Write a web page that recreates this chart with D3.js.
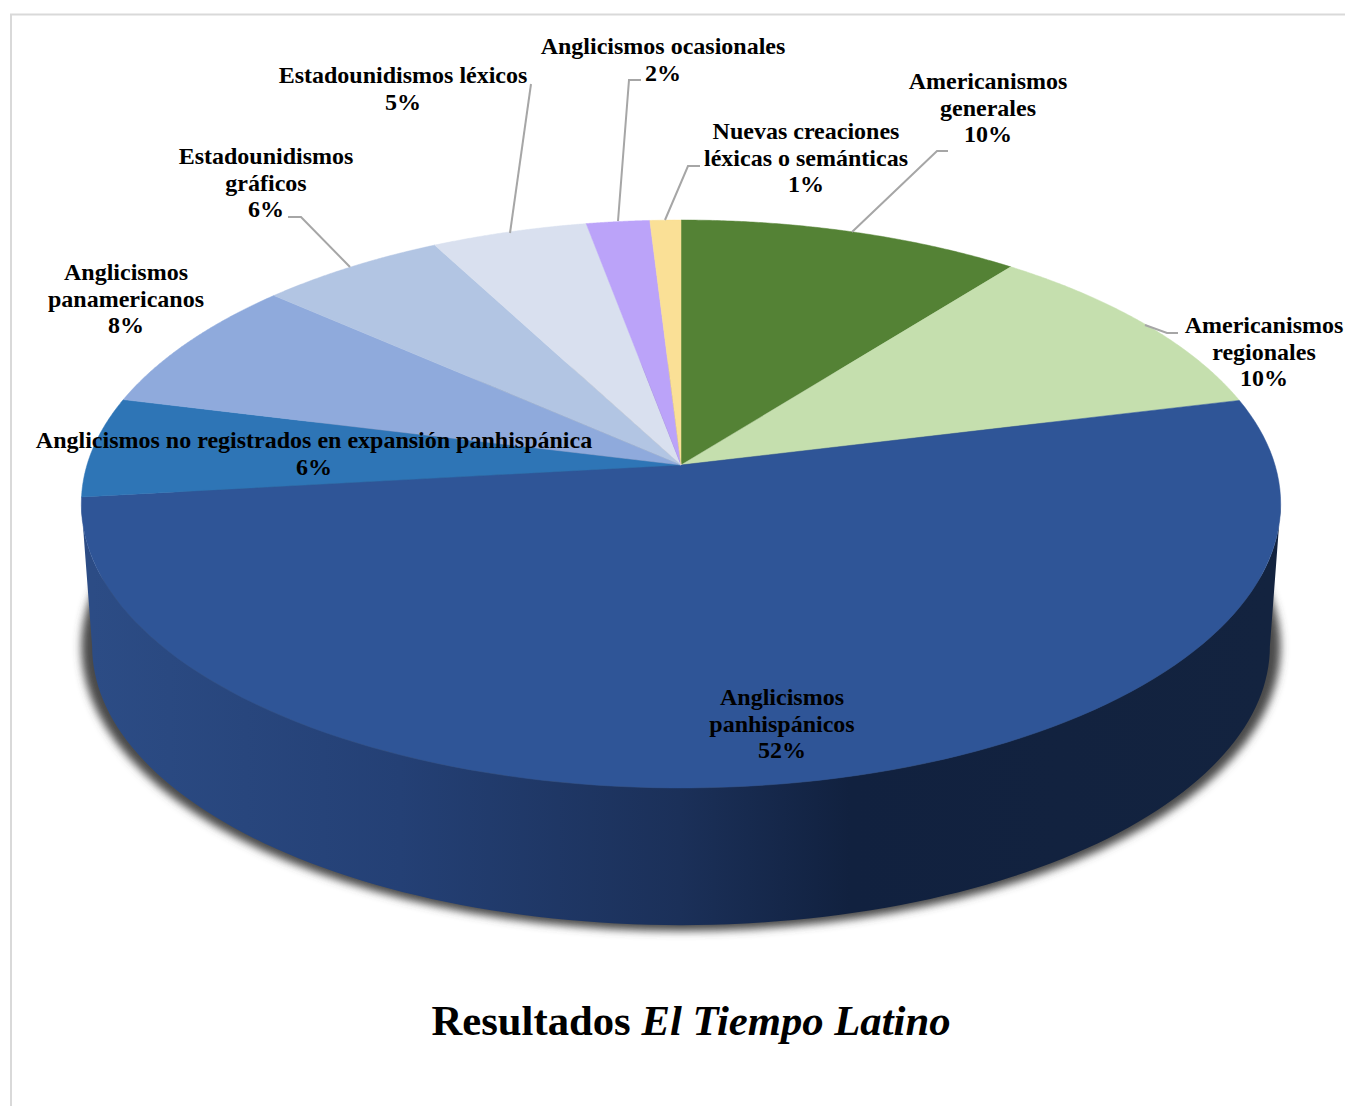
<!DOCTYPE html>
<html><head><meta charset="utf-8">
<script src="https://cdnjs.cloudflare.com/ajax/libs/d3/7.8.5/d3.min.js"></script>
<style>html,body{margin:0;padding:0;background:#fff;overflow:hidden}svg{display:block}
text{font-family:"Liberation Serif",serif;font-weight:bold;fill:#000}</style></head>
<body><svg id="c" width="1345" height="1106"></svg>
<script>
const categories=["Americanismos generales","Americanismos regionales","Anglicismos panhispánicos","Anglicismos no registrados en expansión panhispánica","Anglicismos panamericanos","Estadounidismos gráficos","Estadounidismos léxicos","Anglicismos ocasionales","Nuevas creaciones léxicas o semánticas"];
const sliceValues=[10.55,10.6,52.05,5.7,7.65,5.75,4.8,1.95,0.95];
const percentLabels=["10%","10%","52%","6%","8%","6%","5%","2%","1%"];
const labelLines=[["Americanismos","generales"],["Americanismos","regionales"],["Anglicismos","panhispánicos"],["Anglicismos no registrados en expansión panhispánica"],["Anglicismos","panamericanos"],["Estadounidismos","gráficos"],["Estadounidismos léxicos"],["Anglicismos ocasionales"],["Nuevas creaciones","léxicas o semánticas"]];
const colors=["#548235","#c5dfae","#2f5597","#2e75b6","#8faadc","#b2c5e3","#d9e0ef","#bba3f9","#fae096"];
const titleParts=[["Resultados ","normal"],["El Tiempo Latino","italic"]];

// layout
const labelPos=[[988,89],[1264,333],[782,705],[314,448],[126,280],[266,164],[403,83],[663,54],[806,139]];
const leaders=[[[852,232],[937,151],[948,151]],[[1145,325],[1167,333],[1178,333]],null,null,null,[[350,267],[301,217],[288,217]],[[510,233],[531,84]],[[618,221],[629,80],[641,80]],[[665,220],[688,166],[700,166]]];
const cx=681,apexTop=465,apexBottom=608,a=594,b=278.6,k=0.1373,lineH=26.5;
const project=(t,s,ay)=>{const u=Math.sin(t),v=Math.cos(t),w=1+k*v;return [cx+s*a*u/w,ay-s*b*v/w];};
const svg=d3.select("#c");
const defs=svg.append("defs");
const blur=defs.append("filter").attr("id","blur").attr("x","-10%").attr("y","-10%").attr("width","120%").attr("height","120%");
blur.append("feGaussianBlur").attr("stdDeviation",4.5);
const sideStops=[[92,"#2c4c85"],[400,"#244075"],[680,"#1b3059"],[850,"#11213f"],[1270,"#13233f"]];
const xGrad=d3.scaleLinear().domain([92,1270]).range([0,100]);
const grad=defs.append("linearGradient").attr("id","side").attr("gradientUnits","userSpaceOnUse").attr("x1",92).attr("x2",1270).attr("y1",0).attr("y2",0);
sideStops.forEach(d=>grad.append("stop").attr("offset",xGrad(d[0])+"%").attr("stop-color",d[1]));

// frame
svg.append("path").attr("d","M1345,14.5H11V1106").attr("fill","none").attr("stroke","#d9d9d9").attr("stroke-width",2);

const sample=(t0,t1)=>d3.range(0,121).map(i=>t0+(t1-t0)*i/120);
const line=d3.line();
// shadow
svg.append("path").attr("d",line(sample(0,2*Math.PI).map(t=>project(t,1,608)))+"Z").attr("fill","#4a4a4a").attr("filter","url(#blur)");
// side wall
const tL=Math.PI/2+Math.asin(k),tR=2*Math.PI-tL;
const s2=0.982;
const wall=sample(tL,tR).map(t=>project(t,1,apexTop)).concat(sample(tR,tL).map(t=>project(t,s2,apexBottom)));
svg.append("path").attr("d",line(wall)+"Z").attr("fill","url(#side)");
// slices
const pie=d3.pie().sort(null).value(d=>d)(sliceValues);
svg.selectAll("path.slice").data(pie).join("path").attr("class","slice")
 .attr("d",d=>line([[cx,apexTop]].concat(sample(d.startAngle,d.endAngle).map(t=>project(t,1,apexTop))))+"Z")
 .attr("fill",(d,i)=>colors[i]).attr("stroke",(d,i)=>colors[i]).attr("stroke-width",0.5);
// leaders
svg.selectAll("path.lead").data(leaders.filter(Boolean)).join("path").attr("class","lead")
 .attr("d",d=>line(d)).attr("fill","none").attr("stroke","#a6a6a6").attr("stroke-width",2);
// labels
categories.forEach((c,i)=>{
  const t=svg.append("text").attr("text-anchor","middle").attr("font-size",24);
  labelLines[i].concat([percentLabels[i]]).forEach((l,j)=>t.append("tspan").attr("x",labelPos[i][0]).attr("y",labelPos[i][1]+j*lineH).text(l));
});
// title
const title=svg.append("text").attr("x",691).attr("y",1035).attr("text-anchor","middle").attr("font-size",42.7).style("white-space","pre");
titleParts.forEach(p=>title.append("tspan").attr("font-style",p[1]).text(p[0]));
</script></body></html>
